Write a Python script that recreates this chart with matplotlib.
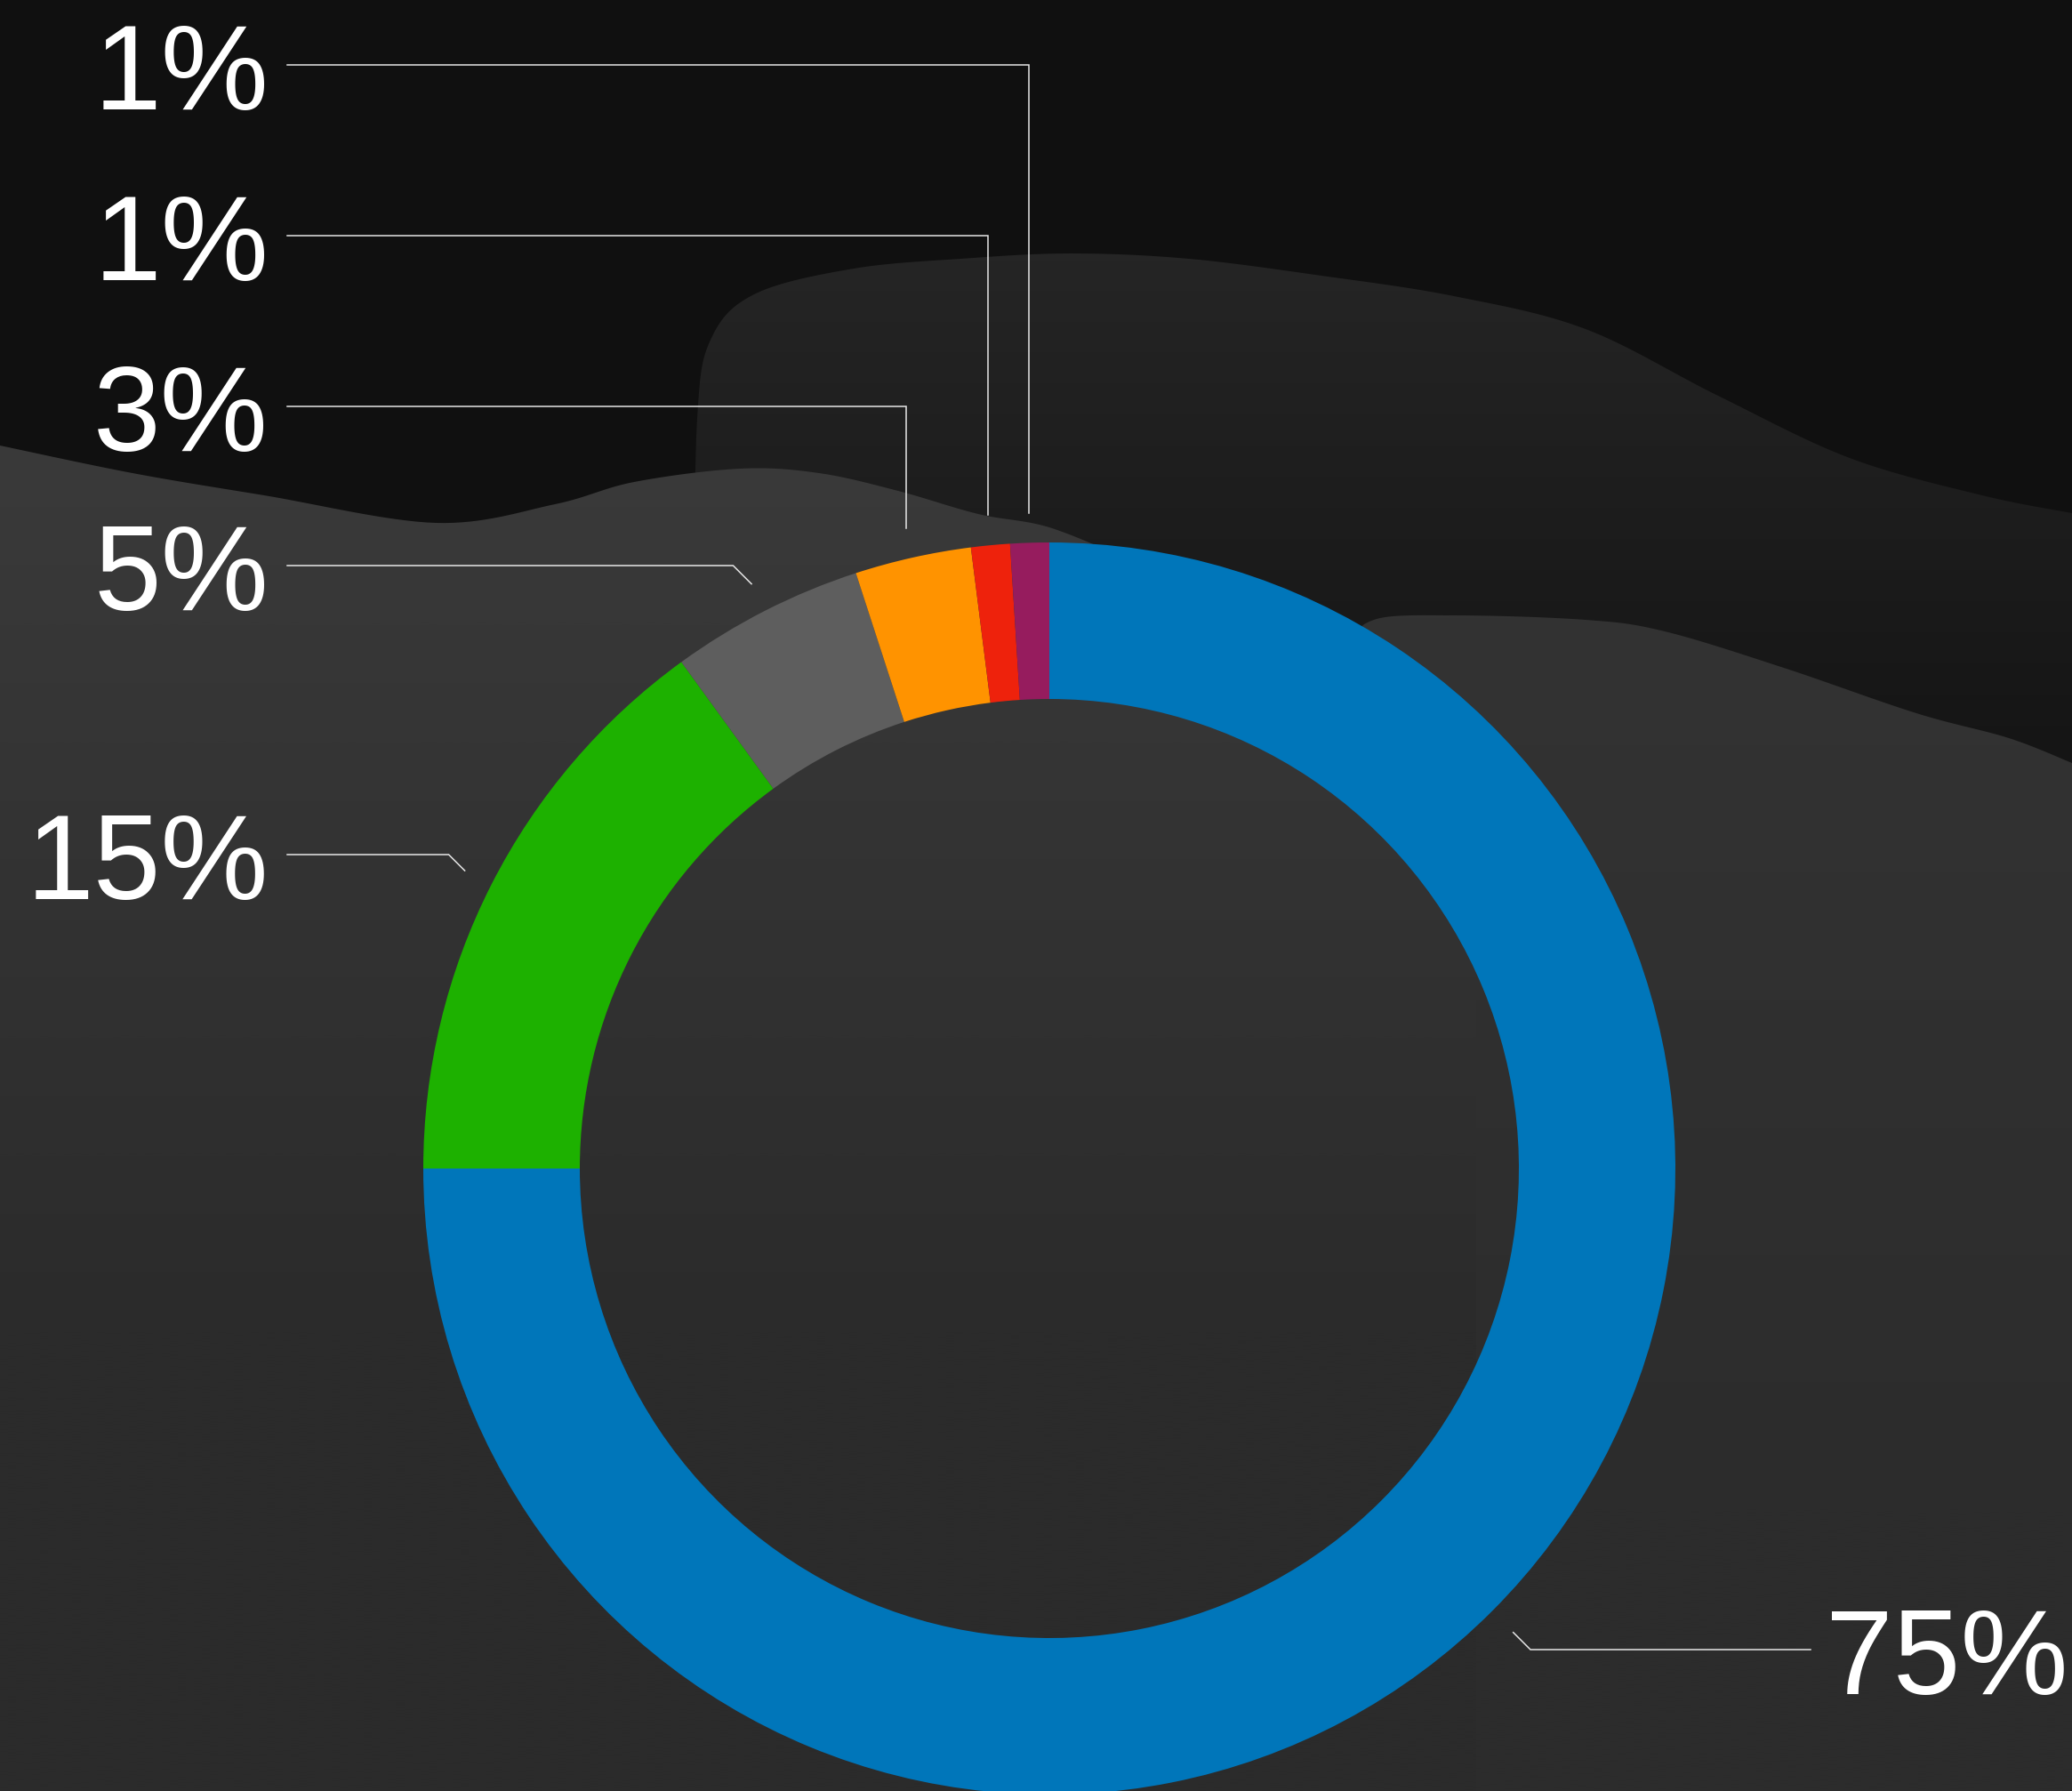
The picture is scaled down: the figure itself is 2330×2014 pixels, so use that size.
import numpy as np
import matplotlib
matplotlib.use("Agg")
from matplotlib import pyplot as plt
from matplotlib.patches import Polygon
from matplotlib.colors import LinearSegmentedColormap

# chart data (clockwise from 12 o'clock)
shares = [75, 15, 5, 3, 1, 1]
labels = ["75%", "15%", "5%", "3%", "1%", "1%"]
colors = ["#0076BA", "#1DB100", "#5E5E5E", "#FF9300", "#EE220C", "#961C5E"]

# layout: y of each label's leader line (pixels from top)
label_line_y = [1855, 961, 636, 457, 265, 73]

W, H = 2330, 2014
cx, cy = 1180, H - 1314
R, ring = 704, 176

plt.rcParams['font.family'] = ['Liberation Sans', 'DejaVu Sans']

fig = plt.figure(figsize=(W / 100, H / 100), dpi=100, facecolor="#101010")
ax = fig.add_axes([0, 0, 1, 1])
ax.set_facecolor("#101010")


def smooth(pts, n=16):
    # catmull-rom through the outline points (background decoration only)
    p = np.array(pts, float)
    p = np.vstack([p[0], p, p[-1]])
    out = []
    for i in range(1, len(p) - 2):
        p0, p1, p2, p3 = p[i - 1], p[i], p[i + 1], p[i + 2]
        for t in np.linspace(0, 1, n, endpoint=False):
            out.append(0.5 * (2 * p1 + (-p0 + p2) * t
                              + (2 * p0 - 5 * p1 + 4 * p2 - p3) * t ** 2
                              + (-p0 + 3 * p1 - 3 * p2 + p3) * t ** 3))
    out.append(p[-2])
    return [tuple(q) for q in out]


def shade(edge, closing, top, bottom, y0, y1):
    pts = smooth(edge) + closing
    poly = Polygon([(x, H - y) for x, y in pts], closed=True,
                   facecolor="none", edgecolor="none")
    ax.add_patch(poly)
    ytop = min(y for _, y in pts)
    yy = np.linspace(ytop, H, 512)
    grad = np.clip((yy - y0) / (y1 - y0), 0, 1)[:, None]
    cmap = LinearSegmentedColormap.from_list("g", [top, bottom])
    im = ax.imshow(grad, extent=(0, W, 0, H - ytop), cmap=cmap, vmin=0, vmax=1,
                   aspect="auto", origin="upper", zorder=0,
                   interpolation="bilinear")
    im.set_clip_path(poly)


# background dunes
upper_edge = [(780, 700), (784, 470), (800, 380), (850, 330), (960, 302),
              (1080, 291), (1204, 285), (1337, 291), (1486, 310), (1635, 333),
              (1783, 370), (1932, 445), (2080, 515), (2229, 557), (2330, 577)]
shade(upper_edge, [(2330, 2014), (780, 2014)], "#252525", "#151515", 290, 850)

left_edge = [(0, 501), (149, 532), (297, 557), (490, 588), (624, 567),
             (713, 542), (832, 527), (921, 532), (1010, 552), (1100, 578),
             (1189, 596), (1300, 650), (1450, 760), (1600, 900), (2330, 1100)]
shade(left_edge, [(2330, 2014), (0, 2014)], "#3a3a3a", "#2b2b2b", 500, 1500)

right_edge = [(1660, 1000), (1580, 830), (1530, 730), (1545, 697),
              (1635, 692), (1783, 697), (1872, 710), (2006, 751), (2155, 802),
              (2259, 830), (2330, 858)]
shade(right_edge, [(2330, 2014), (1660, 2014)], "#333333", "#2c2c2c", 692, 1700)

# donut
wedges, _ = ax.pie(shares, colors=colors, startangle=90, counterclock=False,
                   radius=R, center=(cx, cy), frame=True,
                   wedgeprops=dict(width=ring, linewidth=0, antialiased=True))
for w in wedges:
    w.set_zorder(3)

# leader lines and labels
r_end = R * 1.048
for w, lab, ly_td in zip(wedges, labels, label_line_y):
    a = np.deg2rad((w.theta1 + w.theta2) / 2)
    ex, ey = cx + r_end * np.cos(a), cy + r_end * np.sin(a)
    ly = H - ly_td
    dy = ly - ey
    side = -1 if ex < cx else 1
    bx = ex + side * abs(dy) if abs(dy) < 40 else ex
    end_x = 323 if side < 0 else 2036
    ax.plot([ex, bx, end_x], [ey, ly, ly], color="#e6e6e6", lw=1.1,
            solid_joinstyle="miter", zorder=4)
    if side < 0:
        ax.text(302, ly - 50, lab, ha="right", va="baseline", color="white",
                fontsize=98, zorder=5)
    else:
        ax.text(2053, ly - 50, lab, ha="left", va="baseline", color="white",
                fontsize=98, zorder=5)

ax.set_xlim(0, W)
ax.set_ylim(0, H)
ax.set_aspect("auto")
ax.axis("off")

plt.savefig("out.png", dpi=100, facecolor="#101010")
